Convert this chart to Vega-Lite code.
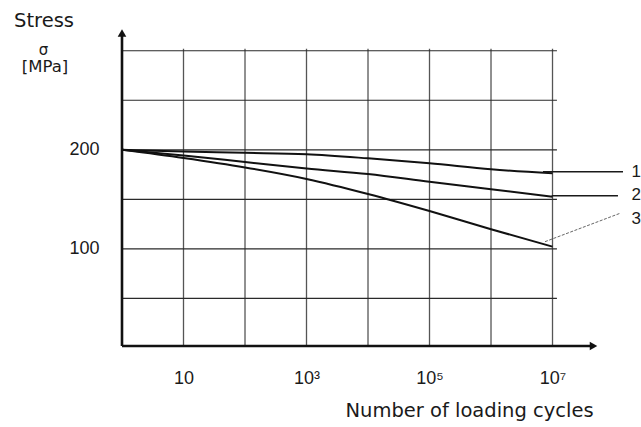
{
  "$schema": "https://vega.github.io/schema/vega-lite/v6.json",
  "width": 516,
  "height": 327,
  "autosize": "none",
  "padding": {"left": 122, "top": 21, "right": 3, "bottom": 79},
  "background": "white",
  "config": {"view": {"stroke": null}},
  "data": {
    "values": [
      {"kind": "vgrid", "x": 10, "y": 2, "y2": 302},
      {"kind": "vgrid", "x": 100, "y": 2, "y2": 302},
      {"kind": "vgrid", "x": 1000, "y": 2, "y2": 302},
      {"kind": "vgrid", "x": 10000, "y": 2, "y2": 302},
      {"kind": "vgrid", "x": 100000, "y": 2, "y2": 302},
      {"kind": "vgrid", "x": 1000000, "y": 2, "y2": 302},
      {"kind": "vgrid", "x": 10000000, "y": 2, "y2": 302},
      {"kind": "hgrid", "x": 1, "x2": 11800000, "y": 50},
      {"kind": "hgrid", "x": 1, "x2": 11800000, "y": 100},
      {"kind": "hgrid", "x": 1, "x2": 11800000, "y": 150},
      {"kind": "hgrid", "x": 1, "x2": 11800000, "y": 200},
      {"kind": "hgrid", "x": 1, "x2": 11800000, "y": 250},
      {"kind": "hgrid", "x": 1, "x2": 11800000, "y": 300},
      {"kind": "axisline", "x": 1, "y": 2, "x2": 1, "y2": 315},
      {"kind": "axisline", "x": 1, "y": 2, "x2": 44000000, "y2": 2},
      {"kind": "arrowup", "x": 1, "y": 317.9},
      {"kind": "arrowright", "x": 46400000, "y": 2},
      {"kind": "curve", "series": "1", "x": 1, "y": 200},
      {"kind": "curve", "series": "1", "x": 10, "y": 198.3},
      {"kind": "curve", "series": "1", "x": 100, "y": 197.0},
      {"kind": "curve", "series": "1", "x": 1000, "y": 195.5},
      {"kind": "curve", "series": "1", "x": 10000, "y": 191.4},
      {"kind": "curve", "series": "1", "x": 100000, "y": 186.4},
      {"kind": "curve", "series": "1", "x": 1000000, "y": 180.3},
      {"kind": "curve", "series": "1", "x": 10000000, "y": 176.3},
      {"kind": "curve", "series": "2", "x": 1, "y": 200},
      {"kind": "curve", "series": "2", "x": 10, "y": 194.3},
      {"kind": "curve", "series": "2", "x": 100, "y": 187.7},
      {"kind": "curve", "series": "2", "x": 1000, "y": 181.1},
      {"kind": "curve", "series": "2", "x": 10000, "y": 175.6},
      {"kind": "curve", "series": "2", "x": 100000, "y": 167.8},
      {"kind": "curve", "series": "2", "x": 1000000, "y": 160.3},
      {"kind": "curve", "series": "2", "x": 10000000, "y": 152.7},
      {"kind": "curve", "series": "3", "x": 1, "y": 200},
      {"kind": "curve", "series": "3", "x": 10, "y": 191.7},
      {"kind": "curve", "series": "3", "x": 100, "y": 182.2},
      {"kind": "curve", "series": "3", "x": 1000, "y": 170.6},
      {"kind": "curve", "series": "3", "x": 10000, "y": 155.4},
      {"kind": "curve", "series": "3", "x": 100000, "y": 138.2},
      {"kind": "curve", "series": "3", "x": 1000000, "y": 119.8},
      {"kind": "curve", "series": "3", "x": 10000000, "y": 102.3},
      {"kind": "leader", "series": "1", "x": 7000000, "y": 177.9, "x2": 140000000, "y2": 177.9},
      {"kind": "leader", "series": "2", "x": 9700000, "y": 153.7, "x2": 116000000, "y2": 153.7},
      {"kind": "leader", "series": "3", "x": 7550000, "y": 107.3, "x2": 125000000, "y2": 135.9},
      {"kind": "serieslabel", "label": "1", "x": 192000000, "y": 177.9},
      {"kind": "serieslabel", "label": "2", "x": 192000000, "y": 153.9},
      {"kind": "serieslabel", "label": "3", "x": 192000000, "y": 130.5},
      {"kind": "ytitle", "label": "Stress", "x": 0.054, "y": 329.5},
      {"kind": "ysymbol", "label": "σ", "x": 0.053, "y": 301.2},
      {"kind": "yunit", "label": "[MPa]", "x": 0.056, "y": 283.1},
      {"kind": "xtitle", "label": "Number of loading cycles", "x": 447000, "y": -70.1}
    ]
  },
  "encoding": {
    "x": {
      "field": "x",
      "type": "quantitative",
      "scale": {"type": "log", "domain": [1, 245500000], "nice": false},
      "axis": {
        "values": [10, 1000, 100000, 10000000],
        "labelExpr": "datum.value < 100 ? '10' : datum.value < 10000 ? '10³' : datum.value < 1000000 ? '10⁵' : '10⁷'",
        "title": null,
        "domain": false,
        "ticks": false,
        "tickSize": 0,
        "grid": false,
        "labelPadding": 21,
        "labelFont": "Liberation Sans",
        "labelFontSize": 18,
        "labelColor": "#1a1a1a",
        "labelFlush": false,
        "labelOverlap": false
      }
    },
    "y": {
      "field": "y",
      "type": "quantitative",
      "scale": {"domain": [0, 330], "nice": false, "zero": false},
      "axis": {
        "values": [100, 200],
        "title": null,
        "domain": false,
        "ticks": false,
        "tickSize": 0,
        "grid": false,
        "labelPadding": 23,
        "labelFont": "Liberation Sans",
        "labelFontSize": 18,
        "labelColor": "#1a1a1a"
      }
    }
  },
  "layer": [
    {
      "transform": [{"filter": "datum.kind == 'vgrid'"}],
      "mark": {"type": "rule", "color": "#555555", "strokeWidth": 1.3, "clip": false},
      "encoding": {"y2": {"field": "y2"}}
    },
    {
      "transform": [{"filter": "datum.kind == 'hgrid'"}],
      "mark": {"type": "rule", "color": "#2a2a2a", "strokeWidth": 1.2, "clip": false},
      "encoding": {"x2": {"field": "x2"}}
    },
    {
      "transform": [{"filter": "datum.kind == 'axisline'"}],
      "mark": {"type": "rule", "color": "#111111", "strokeWidth": 2.6, "clip": false},
      "encoding": {"x2": {"field": "x2"}, "y2": {"field": "y2"}}
    },
    {
      "transform": [{"filter": "datum.kind == 'arrowup'"}],
      "mark": {"type": "point", "shape": "triangle-up", "filled": true, "color": "#111111", "size": 75, "opacity": 1, "clip": false}
    },
    {
      "transform": [{"filter": "datum.kind == 'arrowright'"}],
      "mark": {"type": "point", "shape": "triangle-right", "filled": true, "color": "#111111", "size": 75, "opacity": 1, "clip": false}
    },
    {
      "transform": [{"filter": "datum.kind == 'curve'"}],
      "mark": {"type": "line", "color": "#111111", "strokeWidth": 2, "interpolate": "monotone", "clip": false},
      "encoding": {"detail": {"field": "series"}}
    },
    {
      "transform": [{"filter": "datum.kind == 'leader' && datum.series != '3'"}],
      "mark": {"type": "rule", "color": "#1a1a1a", "strokeWidth": 1.4, "clip": false},
      "encoding": {"x2": {"field": "x2"}, "y2": {"field": "y2"}}
    },
    {
      "transform": [{"filter": "datum.kind == 'leader' && datum.series == '3'"}],
      "mark": {"type": "rule", "color": "#666666", "strokeWidth": 1, "strokeDash": [3, 1.5], "clip": false},
      "encoding": {"x2": {"field": "x2"}, "y2": {"field": "y2"}}
    },
    {
      "transform": [{"filter": "datum.kind == 'serieslabel'"}],
      "mark": {"type": "text", "font": "Liberation Sans", "fontSize": 17, "color": "#1a1a1a", "align": "left", "baseline": "middle", "clip": false},
      "encoding": {"text": {"field": "label"}}
    },
    {
      "transform": [{"filter": "datum.kind == 'ytitle'"}],
      "mark": {"type": "text", "font": "DejaVu Sans", "fontSize": 19.5, "color": "#1a1a1a", "align": "center", "baseline": "middle", "clip": false},
      "encoding": {"text": {"field": "label"}}
    },
    {
      "transform": [{"filter": "datum.kind == 'ysymbol'"}],
      "mark": {"type": "text", "font": "DejaVu Sans", "fontSize": 15, "color": "#1a1a1a", "align": "center", "baseline": "middle", "clip": false},
      "encoding": {"text": {"field": "label"}}
    },
    {
      "transform": [{"filter": "datum.kind == 'yunit'"}],
      "mark": {"type": "text", "font": "DejaVu Sans", "fontSize": 16.5, "color": "#1a1a1a", "align": "center", "baseline": "middle", "clip": false},
      "encoding": {"text": {"field": "label"}}
    },
    {
      "transform": [{"filter": "datum.kind == 'xtitle'"}],
      "mark": {"type": "text", "font": "DejaVu Sans", "fontSize": 19.5, "color": "#1a1a1a", "align": "center", "baseline": "alphabetic", "clip": false},
      "encoding": {"text": {"field": "label"}}
    }
  ]
}
